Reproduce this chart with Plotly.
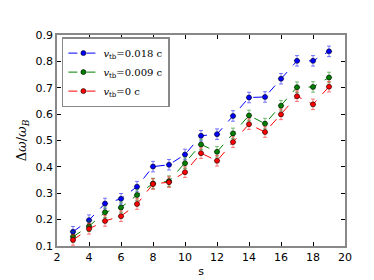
import plotly.graph_objects as go

s = [3, 4, 5, 6, 7, 8, 9, 10, 11, 12, 13, 14, 15, 16, 17, 18, 19]
v018 = [0.154, 0.198, 0.261, 0.279, 0.325, 0.401, 0.408, 0.447, 0.518, 0.524,
        0.593, 0.663, 0.665, 0.734, 0.802, 0.802, 0.838]
v009 = [0.135, 0.175, 0.228, 0.246, 0.293, 0.337, 0.346, 0.414, 0.485, 0.457,
        0.527, 0.595, 0.564, 0.632, 0.702, 0.703, 0.739]
v000 = [0.123, 0.165, 0.195, 0.213, 0.259, 0.335, 0.342, 0.380, 0.452, 0.423,
        0.494, 0.562, 0.532, 0.599, 0.668, 0.637, 0.704]
yerr = [0.02] * len(s)
xerr = [0.2] * len(s)

series = [
    ("<i>v</i><sub>tb</sub>=0.018 c", v018, "rgb(0,0,255)", "rgba(0,0,255,0.5)"),
    ("<i>v</i><sub>tb</sub>=0.009 c", v009, "rgb(0,128,0)", "rgba(0,128,0,0.5)"),
    ("<i>v</i><sub>tb</sub>=0 c", v000, "rgb(255,0,0)", "rgba(255,0,0,0.5)"),
]

fig = go.Figure()
for name, ys, col, ecol in series:
    fig.add_trace(go.Scatter(
        x=s, y=ys, name=name, mode="lines+markers",
        line=dict(color=col, width=1, dash="dash"),
        marker=dict(color=col, size=5, line=dict(color="black", width=0.6)),
        error_y=dict(type="data", array=yerr, color=ecol, thickness=1, width=2),
        error_x=dict(type="data", array=xerr, color=ecol, thickness=1, width=0),
    ))

axis_common = dict(
    showgrid=False, zeroline=False, ticks="inside", ticklen=4, tickwidth=1,
    tickcolor="black", mirror="ticks", showline=True, linecolor="#888888",
    linewidth=1.5, tickfont=dict(family="DejaVu Sans", size=11, color="black"),
)

fig.update_layout(
    width=374, height=280,
    margin=dict(l=47, r=37, t=27, b=35),
    paper_bgcolor="white", plot_bgcolor="white",
    xaxis=dict(range=[2, 20], tickvals=[2, 4, 6, 8, 10, 12, 14, 16, 18, 20],
               title=dict(text="s", font=dict(family="DejaVu Sans", size=11, color="black"), standoff=4),
               **axis_common),
    yaxis=dict(range=[0.1, 0.9], tickvals=[0.1, 0.2, 0.3, 0.4, 0.5, 0.6, 0.7, 0.8, 0.9],
               tickformat=".1f",
               title=dict(text="Δ<i>ω</i>/<i>ω</i><sub><i>B</i></sub>",
                          font=dict(family="DejaVu Serif", size=13, color="black"), standoff=6),
               **axis_common),
    legend=dict(x=0.017, y=0.99, xanchor="left", yanchor="top",
                bgcolor="white", bordercolor="#888888", borderwidth=1.5,
                font=dict(family="DejaVu Serif", size=10, color="black"),
                tracegroupgap=0, itemwidth=30),
    showlegend=True,
)

fig.write_html("out.html")
